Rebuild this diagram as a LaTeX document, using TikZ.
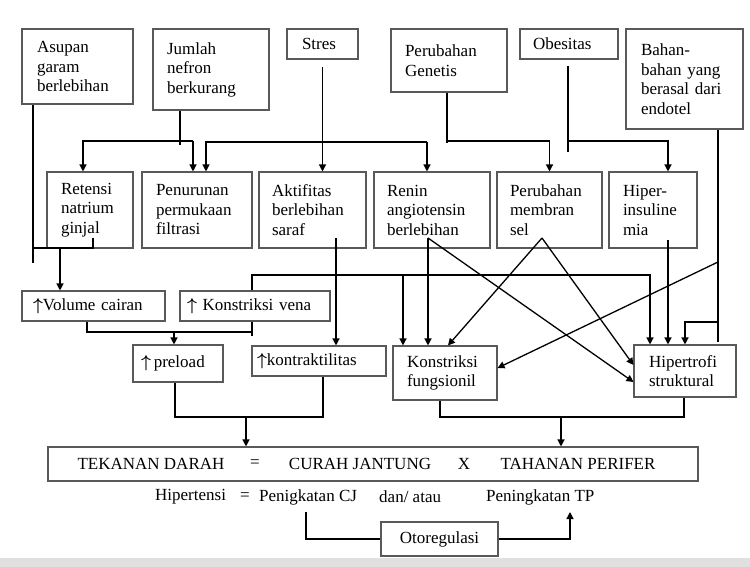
\documentclass[tikz,border=0pt]{standalone}
\usepackage{amsmath,amssymb}
\usepackage{fontspec}
\setmainfont{Liberation Serif}
\usepackage{tikz}
\usetikzlibrary{arrows.meta}
\newcommand{\naik}{$\boldsymbol{\uparrow}$}

\begin{document}
\begin{tikzpicture}[x=1pt,y=-1pt,
  every node/.style={font=\fontsize{17}{19.5}\selectfont},
  blok/.style n args={3}{draw=black!65,line width=1.1pt,inner sep=0pt,
    minimum width=#1,minimum height=#2,text width=#3,align=left},
  teks/.style={anchor=west,inner sep=0pt},
  garis/.style={line width=1.3pt},
  panah/.style={line width=1.3pt,-{Triangle[width=7pt,length=7pt]}}]
  \useasboundingbox (0,0) rectangle (750,567);
  \fill[black!12] (0,558) rectangle (750,567);
  % penyebab
  \node[blok={111pt}{75pt}{81pt}] (asupan) at (77.5,66.5) {Asupan\\garam\\berlebihan};
  \node[blok={116pt}{81pt}{88pt}] (jumlah) at (211,69.5) {Jumlah\\nefron\\berkurang};
  \node[blok={71pt}{30pt}{41pt}] (stres) at (322.5,44) {Stres};
  \node[blok={116pt}{63pt}{88pt}] (genetis) at (449,60.5) {Perubahan\\Genetis};
  \node[blok={98pt}{30pt}{72pt}] (obesitas) at (569,44) {Obesitas};
  \node[blok={117pt}{100pt}{87pt}] (bahan) at (684.5,79) {Bahan-\\bahan yang\\berasal dari\\endotel};
  % mekanisme
  \node[blok={86pt}{76pt}{58pt}] (retensi) at (90,210) {Retensi\\natrium\\ginjal};
  \node[blok={110pt}{76pt}{82pt}] (penurunan) at (197,210) {Penurunan\\permukaan\\filtrasi};
  \node[blok={107pt}{76pt}{81pt}] (aktifitas) at (312.5,210) {Aktifitas\\berlebihan\\saraf};
  \node[blok={116pt}{76pt}{90pt}] (renin) at (432,210) {Renin\\angiotensin\\berlebihan};
  \node[blok={105pt}{76pt}{79pt}] (membran) at (549.5,210) {Perubahan\\membran\\sel};
  \node[blok={88pt}{76pt}{60pt}] (hiper) at (653,210) {Hiper-\\insuline\\mia};
  % akibat
  \node[blok={143pt}{30pt}{121pt}] (volume) at (93.5,306) {\naik Volume cairan};
  \node[blok={150pt}{30pt}{136pt}] (vena) at (255,306) {\naik\ Konstriksi vena};
  \node[blok={90pt}{37pt}{74pt}] (preload) at (178,363.5) {\naik\,preload};
  \node[blok={134pt}{30pt}{124pt}] (kontraktilitas) at (319,361) {\naik kontraktilitas};
  \node[blok={104pt}{54pt}{76pt}] (fungsionil) at (445,373) {Konstriksi\\fungsionil};
  \node[blok={102pt}{52pt}{72pt}] (hipertrofi) at (685,371) {Hipertrofi\\struktural};
  % tekanan darah
  \node[blok={650pt}{34pt}{640pt}] (tekanan) at (373,464) {};
  \node (td) at (151,464) {TEKANAN DARAH};
  \node (sama) at (255,464) {=};
  \node (cj) at (360,464) {CURAH JANTUNG};
  \node (kali) at (464,464) {X};
  \node (tp) at (578,464) {TAHANAN PERIFER};
  \node[teks] (hipertensi) at (155,497) {Hipertensi};
  \node[teks] (sama2) at (240,497) {=};
  \node[teks] (naikcj) at (259,497) {Penigkatan CJ};
  \node[teks] (danatau) at (379,497) {dan/ atau};
  \node[teks] (naiktp) at (486,497) {Peningkatan TP};
  \node[blok={117pt}{34pt}{117pt},align=center] (otoregulasi) at (439.5,539) {Otoregulasi};

  % titik bantu
  \coordinate (a1) at (33,263);
  \coordinate (r1) at (93,238);
  \coordinate (r2) at (33,248);
  \coordinate (r3) at (60,248);
  \coordinate (j1) at (180,145);
  \coordinate (j2) at (83,141);
  \coordinate (j3) at (193,141);
  \coordinate (p1) at (206,142);
  \coordinate (p2) at (427,142);
  \coordinate (g1) at (447,141);
  \coordinate (o1) at (568,141);
  \coordinate (hs) at (668,240);
  \coordinate (b1) at (718,342);
  \coordinate (b2) at (718,262);
  \coordinate (b3) at (718,322);
  \coordinate (rn) at (428,238);
  \coordinate (mb) at (542,238);
  \coordinate (ak) at (336,238);
  \coordinate (v1) at (650,275);
  \coordinate (v2) at (403,275);
  \coordinate (q1) at (87,332);
  \coordinate (q2) at (252,332);
  \coordinate (q3) at (174,332);
  \coordinate (s1) at (175,417);
  \coordinate (s2) at (323,417);
  \coordinate (s3) at (246,417);
  \coordinate (t1) at (440,417);
  \coordinate (t2) at (684,417);
  \coordinate (t3) at (561,417);
  \coordinate (u1) at (306,512);
  \coordinate (u2) at (570,512);

  % baris atas
  \draw[garis] (asupan.south -| a1) -- (a1);
  \draw[garis] (r1) |- (r2);
  \draw[panah] (r3) -- (r3 |- volume.north);
  \draw[garis] (jumlah.south -| j1) -- (j1);
  \draw[panah] (j3) -| (j2 |- retensi.north);
  \draw[panah] (j3) -- (j3 |- penurunan.north);
  \draw[panah] (p2) -| (p1 |- penurunan.north);
  \draw[panah] (p2) -- (p2 |- renin.north);
  \draw[panah] ([yshift=-7pt]stres.south) -- (stres.south |- aktifitas.north);
  \draw[garis] (genetis.south -| g1) -- ([yshift=-2pt]g1);
  \draw[panah] (g1) -| (membran.north);
  \draw[garis] ([yshift=-6pt]obesitas.south -| o1) -- ([yshift=-11pt]o1);
  \draw[panah] (o1) -| (hiper.north -| hs);
  \draw[garis] (bahan.south -| b1) -- (b1);
  \draw[panah] (b3) -| (hipertrofi.north);
  % baris tengah
  \draw[panah] (ak) -- (ak |- kontraktilitas.north);
  \draw[panah] ([xshift=-3pt]vena.north) |- (v1) -- (v1 |- hipertrofi.north);
  \draw[panah] (v2) -- (v2 |- fungsionil.north);
  \draw[panah] (rn) -- (rn |- fungsionil.north);
  \draw[panah] (rn) -- ([yshift=-11pt]hipertrofi.west);
  \draw[panah] (mb) -- ([xshift=3pt]fungsionil.north);
  \draw[panah] (mb) -- ([yshift=6pt]hipertrofi.west);
  \draw[panah] (hs) -- (hs |- hipertrofi.north);
  \draw[panah] (b2) -- ([yshift=5pt]fungsionil.east);
  \draw[garis] (volume.south -| q1) -- (q1) -- (q2);
  \draw[garis] (vena.south -| q2) -- ++(0,14);
  \draw[panah] (q3) -- (q3 |- preload.north);
  % ke tekanan darah
  \draw[garis] (preload.south -| s1) -- (s1) -- (s2) -- (kontraktilitas.south -| s2);
  \draw[panah] (s3) -- (s3 |- tekanan.north);
  \draw[garis] (fungsionil.south -| t1) -- (t1) -- (t2) -- (hipertrofi.south -| t2);
  \draw[panah] (t3) -- (t3 |- tekanan.north);
  \draw[garis] (u1) |- (otoregulasi.west);
  \draw[panah] (otoregulasi.east) -| (u2);
\end{tikzpicture}
\end{document}
